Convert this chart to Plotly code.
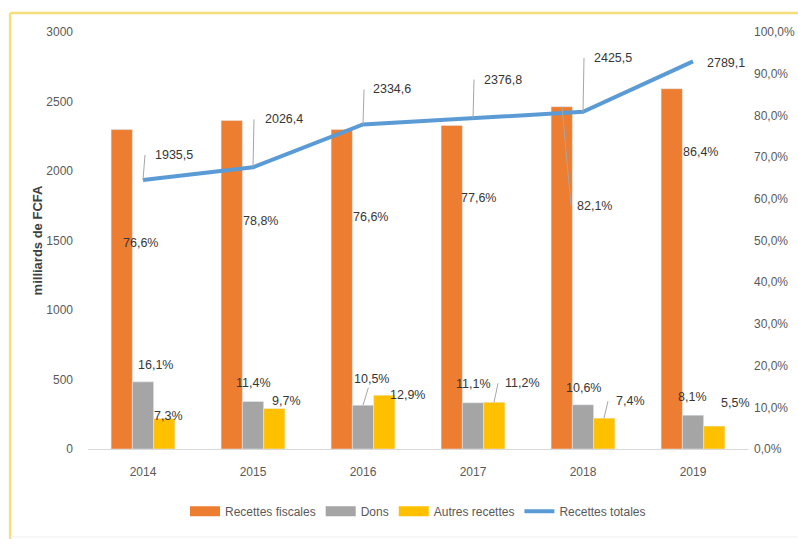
import plotly.graph_objects as go

years = ["2014", "2015", "2016", "2017", "2018", "2019"]
recettes_fiscales_pct = [76.6, 78.8, 76.6, 77.6, 82.1, 86.4]
dons_pct = [16.1, 11.4, 10.5, 11.1, 10.6, 8.1]
autres_pct = [7.3, 9.7, 12.9, 11.2, 7.4, 5.5]
recettes_totales = [1935.5, 2026.4, 2334.6, 2376.8, 2425.5, 2789.1]

left_ticks = [0, 500, 1000, 1500, 2000, 2500, 3000]
right_ticks = [0, 10, 20, 30, 40, 50, 60, 70, 80, 90, 100]

C_ORANGE = "#ED7D31"
C_GRAY = "#A5A5A5"
C_YELLOW = "#FFC000"
C_BLUE = "#5B9BD5"
FONT = "Liberation Sans, Arial, sans-serif"
LABEL_COLOR = "#363636"
LEADER = "#A6A6A6"


def fr(v, suffix=""):
    return f"{v:.1f}".replace(".", ",") + suffix


fig = go.Figure()
bar_series = [("Recettes fiscales", recettes_fiscales_pct, C_ORANGE),
              ("Dons", dons_pct, C_GRAY),
              ("Autres recettes", autres_pct, C_YELLOW)]
for name, vals, col in bar_series:
    fig.add_trace(go.Bar(x=years, y=vals, name=name, marker_color=col, yaxis="y",
                         legendgroup=name, showlegend=False))
# legend entries drawn as wide swatches (no marks plotted)
for name, vals, col in bar_series:
    fig.add_trace(go.Scatter(x=[None], y=[None], name=name, mode="lines",
                             line=dict(color=col, width=10), legendgroup=name,
                             yaxis="y", hoverinfo="skip"))
fig.add_trace(go.Scatter(x=years, y=recettes_totales, name="Recettes totales",
                         mode="lines", line=dict(color=C_BLUE, width=4), yaxis="y2"))

# label placement styles (pixel offsets)
# plain: ("p", dx, dy) -> label centre offset from anchor (dy downwards)
# arrow: ("a", bar_xshift, ax, ay, xanchor, pad)
orange_pos = [("p", -3, 113), ("p", 7, 101), ("p", 7, 87), ("p", 5, 73),
              ("a", -21, 9, 99, "left", 5), ("p", 7, 63)]
gray_pos = [("p", 12, -17), ("p", 0, -18), ("a", 0, 8, -26, "center", 1),
            ("p", 0, -19), ("p", 0, -17), ("p", -1, -18)]
yellow_pos = [("p", 25, -3), ("p", 33, -8), ("p", 44, 0),
              ("a", 21, 4, -19, "left", 6), ("a", 21, 4, -17, "left", 7), ("p", 42, -23)]
line_pos = [("a", 0, 2, -25, "left", 9), ("a", 0, 1, -48, "left", 10),
            ("a", 0, 1, -35, "left", 8), ("a", 0, 1, -39, "left", 9),
            ("a", 0, 1, -54, "left", 9), ("r", 12, 2)]


def add_label(xi, y, yref, text, pos):
    # xi is the category index on the category x axis
    base = dict(x=xi, y=y, xref="x", yref=yref, text=text,
                font=dict(family=FONT, size=12.5, color=LABEL_COLOR))
    if pos[0] == "p":
        fig.add_annotation(**base, showarrow=False, xshift=pos[1], yshift=-pos[2])
    elif pos[0] == "r":
        fig.add_annotation(**base, showarrow=False, xanchor="left",
                           xshift=pos[1], yshift=-pos[2])
    else:
        fig.add_annotation(**base, showarrow=True, arrowhead=0, arrowwidth=1,
                           arrowcolor=LEADER, xshift=pos[1], ax=pos[2], ay=pos[3],
                           xanchor=pos[4], borderpad=pos[5], standoff=0)


for i in range(len(years)):
    add_label(i, recettes_fiscales_pct[i], "y", fr(recettes_fiscales_pct[i], "%"), orange_pos[i])
    add_label(i, dons_pct[i], "y", fr(dons_pct[i], "%"), gray_pos[i])
    add_label(i, autres_pct[i], "y", fr(autres_pct[i], "%"), yellow_pos[i])
    add_label(i, recettes_totales[i], "y2", fr(recettes_totales[i]), line_pos[i])

# frame around the figure
fig.add_shape(type="line", xref="paper", yref="paper", x0=-0.118, x1=1.1,
              y0=1.0456, y1=1.0456, line=dict(color="#F5DF7A", width=2.5))
fig.add_shape(type="line", xref="paper", yref="paper", x0=-0.118, x1=-0.118,
              y0=1.0456, y1=-0.22, line=dict(color="#F5DF7A", width=2.5))
fig.add_shape(type="line", xref="paper", yref="paper", x0=-0.118, x1=1.1,
              y0=-0.211, y1=-0.211, line=dict(color="#EEEEEE", width=1))

tickfont = dict(family=FONT, size=12, color="#595959")

fig.update_layout(
    width=798, height=539,
    margin=dict(l=88, r=50, t=32, b=90, autoexpand=False),
    paper_bgcolor="white", plot_bgcolor="white",
    separators=", ",
    barmode="group", bargap=0.42, bargroupgap=0,
    font=dict(family=FONT, size=12, color="#595959"),
    xaxis=dict(type="category", range=[-0.5, len(years) - 0.5], showline=True,
               linecolor="#D9D9D9", linewidth=1, automargin=False,
               showgrid=False, ticks="", tickfont=tickfont, ticklabelstandoff=12),
    yaxis=dict(side="right", range=[0, 100], tickmode="array", tickvals=right_ticks,
               ticktext=[fr(v, "%") for v in right_ticks], automargin=False,
               showgrid=False, zeroline=False,
               showline=False, tickfont=tickfont, ticklabelstandoff=5),
    yaxis2=dict(side="left", overlaying="y", anchor="x", range=[0, 3000],
                tickmode="array", tickvals=left_ticks, automargin=False,
                ticktext=[str(v) for v in left_ticks], showgrid=False, zeroline=False,
                showline=False, tickfont=tickfont, ticklabelstandoff=14,
                title=dict(text="<b>milliards de FCFA</b>", standoff=0,
                           font=dict(family=FONT, size=13, color="#404040"))),
    legend=dict(orientation="h", x=0.5, xanchor="center", y=-0.149, yanchor="middle",
                font=dict(family=FONT, size=12, color="#595959"), traceorder="normal",
                itemwidth=30),
    showlegend=True,
)

fig.write_html("out.html", post_script="document.body.style.margin='0';",
               config={"displayModeBar": False})
